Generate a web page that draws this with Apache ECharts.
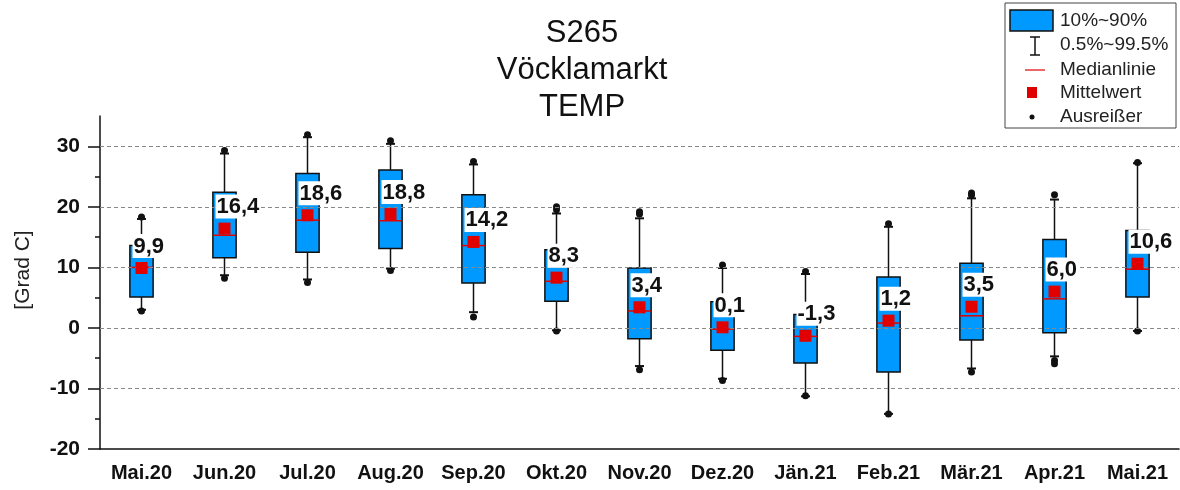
<!DOCTYPE html>
<html>
<head>
<meta charset="utf-8">
<script src="https://cdn.jsdelivr.net/npm/echarts@6/dist/echarts.min.js"></script>
<style>html,body{margin:0;padding:0;background:#fff}#c{width:1180px;height:490px}</style>
</head>
<body>
<div id="c"></div>
<script>
const categories = ['Mai.20','Jun.20','Jul.20','Aug.20','Sep.20','Okt.20','Nov.20','Dez.20','Jän.21','Feb.21','Mär.21','Apr.21','Mai.21'];
const p0_5   = [3.0, 8.7, 8.0, 9.8, 2.6, -0.4, -6.3, -8.4, -11.3, -14.2, -6.7, -4.7, -0.5];
const p10    = [5.1, 11.6, 12.5, 13.1, 7.4, 4.4, -1.8, -3.7, -5.8, -7.3, -2.0, -0.8, 5.1];
const median = [10.0, 15.3, 17.8, 17.7, 13.6, 7.7, 2.8, -0.2, -1.4, 0.8, 2.0, 4.8, 9.7];
const p90    = [13.6, 22.4, 25.5, 26.1, 22.0, 12.9, 9.9, 4.3, 2.2, 8.4, 10.7, 14.6, 16.1];
const p99_5  = [18.0, 28.8, 31.5, 30.4, 27.0, 18.9, 18.1, 9.9, 8.9, 16.7, 21.4, 21.2, 27.2];
const mean   = [9.9, 16.4, 18.6, 18.8, 14.2, 8.3, 3.4, 0.1, -1.3, 1.2, 3.5, 6.0, 10.6];
const outliers = [
  [18.3, 2.8], [29.3, 8.2], [31.9, 7.5], [30.9, 9.5], [27.5, 1.8], [19.5, 20.0, -0.5],
  [18.8, 19.2, -6.9], [10.4, -8.7], [9.3, -11.2], [17.2, -14.2], [22.3, 21.9, -7.3],
  [22.0, -5.4, -5.9], [27.3, -0.5]
];
const yTickLabels = [-20, -10, 0, 10, 20, 30];
const yMinorTicks = [-15, -5, 5, 15, 25];
const gridValues = [30, 20, 10, 0, -10];

const boxData = categories.map((c, i) => [i, p0_5[i], p10[i], median[i], p90[i], p99_5[i]]);
const meanData = categories.map((c, i) => [i, mean[i]]);
const outlierData = [];
outliers.forEach((arr, i) => arr.forEach(v => outlierData.push([i, v])));

function renderItem(params, api) {
  const i = api.value(0);
  const lo = api.coord([i, api.value(1)]);
  const q1 = api.coord([i, api.value(2)]);
  const med = api.coord([i, api.value(3)]);
  const q3 = api.coord([i, api.value(4)]);
  const hi = api.coord([i, api.value(5)]);
  const bw = api.size([1, 0])[0] * 0.28;
  const cw = 9;
  const x = lo[0];
  const ls = {stroke: '#111', lineWidth: 1.5};
  return {
    type: 'group',
    children: [
      {type: 'line', shape: {x1: x, y1: hi[1], x2: x, y2: q3[1]}, style: ls},
      {type: 'line', shape: {x1: x, y1: q1[1], x2: x, y2: lo[1]}, style: ls},
      {type: 'line', shape: {x1: x - cw / 2, y1: hi[1], x2: x + cw / 2, y2: hi[1]}, style: {stroke: '#111', lineWidth: 2}},
      {type: 'line', shape: {x1: x - cw / 2, y1: lo[1], x2: x + cw / 2, y2: lo[1]}, style: {stroke: '#111', lineWidth: 2}},
      {type: 'rect', shape: {x: x - bw / 2, y: q3[1], width: bw, height: q1[1] - q3[1]}, style: {fill: '#0099ff', stroke: '#111', lineWidth: 1.5}},
      {type: 'line', shape: {x1: x - bw / 2, y1: med[1], x2: x + bw / 2, y2: med[1]}, style: {stroke: '#e00000', lineWidth: 1.5}}
    ]
  };
}

const chart = echarts.init(document.getElementById('c'), null, {renderer: 'canvas'});
const txt = (y, s) => ({type: 'text', x: 1060, y: y, style: {text: s, font: '19px Arial', fill: '#222', textVerticalAlign: 'middle'}});
chart.setOption({
  animation: false,
  backgroundColor: '#fff',
  grid: {left: 100, right: 1, top: 116, bottom: 41, containLabel: false},
  title: {
    text: 'S265\nVöcklamarkt\nTEMP',
    left: 577, top: 10, textAlign: 'center',
    textStyle: {fontFamily: 'Arial', fontSize: 31, fontWeight: 'normal', color: '#111', lineHeight: 37}
  },
  xAxis: {
    type: 'category',
    data: categories,
    boundaryGap: true,
    axisLine: {onZero: false, lineStyle: {color: '#111', width: 1.5}},
    axisTick: {alignWithLabel: true, length: 10, lineStyle: {color: '#111', width: 1.5}},
    axisLabel: {interval: 0, hideOverlap: false, color: '#111', fontFamily: 'Arial', fontWeight: 'bold', fontSize: 20, margin: 14},
    splitLine: {show: false}
  },
  yAxis: [{
    type: 'value', min: -20, max: 35,
    axisLine: {show: true, lineStyle: {color: '#111', width: 1.5}},
    axisTick: {show: true, length: 12, customValues: yTickLabels, lineStyle: {color: '#111', width: 1.5}},
    axisLabel: {customValues: yTickLabels, color: '#111', fontFamily: 'Arial', fontWeight: 'bold', fontSize: 21, margin: 20},
    splitLine: {show: false}
  }, {
    type: 'value', min: -20, max: 35, position: 'left',
    axisLine: {show: false},
    axisTick: {show: true, length: 5, customValues: yMinorTicks, lineStyle: {color: '#111', width: 1.5}},
    axisLabel: {show: false},
    splitLine: {show: false}
  }],
  graphic: [
    {type: 'text', x: 23, y: 270, rotation: Math.PI / 2,
     style: {text: '[Grad C]', font: '21px Arial', fill: '#222', textAlign: 'center', textVerticalAlign: 'middle'}},
    {type: 'rect', shape: {x: 1005, y: 3, width: 171, height: 125}, style: {fill: '#fff', stroke: '#444', lineWidth: 1}},
    {type: 'rect', shape: {x: 1010, y: 10, width: 43, height: 21}, style: {fill: '#0099ff', stroke: '#111', lineWidth: 1.5}},
    {type: 'line', shape: {x1: 1035, y1: 37, x2: 1035, y2: 55}, style: {stroke: '#111', lineWidth: 1.5}},
    {type: 'line', shape: {x1: 1030, y1: 37, x2: 1040, y2: 37}, style: {stroke: '#111', lineWidth: 1.5}},
    {type: 'line', shape: {x1: 1030, y1: 55, x2: 1040, y2: 55}, style: {stroke: '#111', lineWidth: 1.5}},
    {type: 'line', shape: {x1: 1025, y1: 70, x2: 1045, y2: 70}, style: {stroke: '#e00000', lineWidth: 1.2}},
    {type: 'rect', shape: {x: 1027, y: 87, width: 10, height: 11}, style: {fill: '#e00000'}},
    {type: 'circle', shape: {cx: 1032, cy: 117, r: 2.5}, style: {fill: '#111'}},
    txt(21, '10%~90%'),
    txt(45, '0.5%~99.5%'),
    txt(70, 'Medianlinie'),
    txt(93, 'Mittelwert'),
    txt(117, 'Ausreißer')
  ],
  series: [
    {
      type: 'line', data: [], z: 1, silent: true,
      markLine: {
        silent: true, symbol: 'none', animation: false,
        label: {show: false},
        lineStyle: {color: '#888', type: [4, 3], width: 1.2},
        data: gridValues.map(v => ({yAxis: v}))
      }
    },
    {
      type: 'custom', name: '10%~90%', z: 3,
      renderItem: renderItem,
      encode: {x: 0, y: [1, 2, 3, 4, 5]},
      data: boxData
    },
    {
      type: 'scatter', name: 'Ausreißer', z: 4,
      symbol: 'circle', symbolSize: 7,
      itemStyle: {color: '#111', opacity: 1},
      data: outlierData
    },
    {
      type: 'scatter', name: 'Mittelwert', z: 5,
      symbol: 'rect', symbolSize: 12,
      itemStyle: {color: '#e00000', opacity: 1},
      label: {
        show: true, position: [-3, -28],
        formatter: p => p.value[1].toFixed(1).replace('.', ','),
        fontFamily: 'Arial', fontWeight: 'bold', fontSize: 22, color: '#111',
        backgroundColor: '#fff', padding: [1, 1, 0, 1], lineHeight: 23
      },
      data: meanData
    }
  ]
});
</script>
</body>
</html>
